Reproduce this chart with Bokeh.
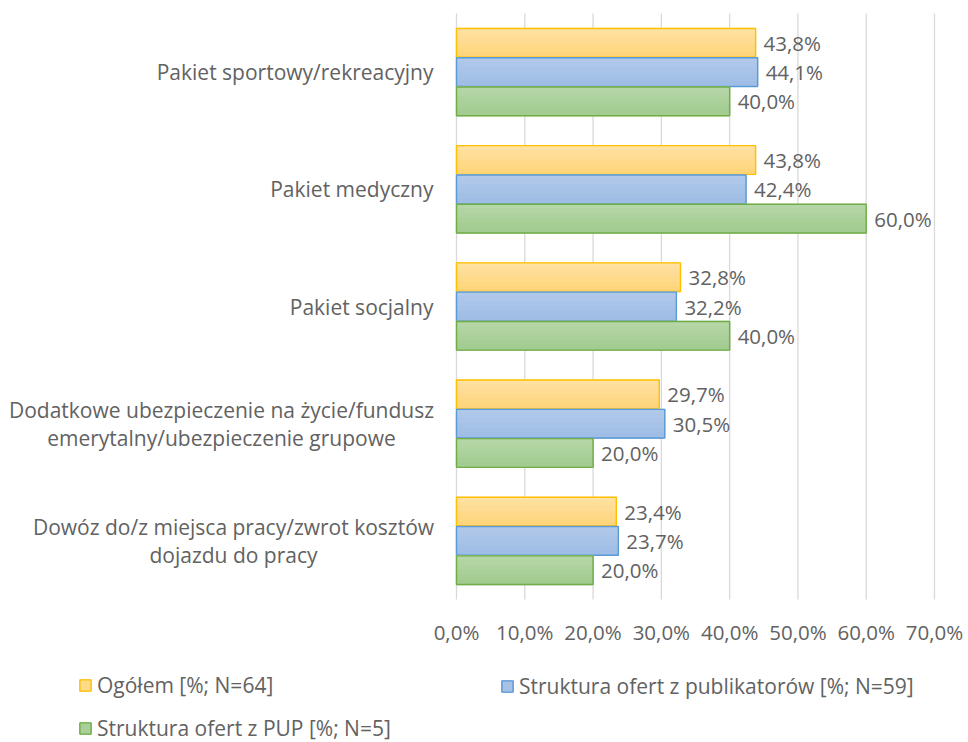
from bokeh.plotting import figure
from bokeh.models import (ColumnDataSource, LabelSet, Legend, LegendItem, Range1d)
from bokeh.core.properties import value
from bokeh.embed import file_html
from bokeh.resources import INLINE

# ---- data ----
categories = [
    "Pakiet sportowy/rekreacyjny",
    "Pakiet medyczny",
    "Pakiet socjalny",
    "Dodatkowe ubezpieczenie na życie/fundusz\nemerytalny/ubezpieczenie grupowe",
    "Dowóz do/z miejsca pracy/zwrot kosztów\ndojazdu do pracy",
]
ogolem = [43.8, 43.8, 32.8, 29.7, 23.4]
publikatory = [44.1, 42.4, 32.2, 30.5, 23.7]
pup = [40.0, 60.0, 40.0, 20.0, 20.0]
series_names = [
    "Ogółem [%; N=64]",
    "Struktura ofert z publikatorów [%; N=59]",
    "Struktura ofert z PUP [%; N=5]",
]
tick_values = [0, 10, 20, 30, 40, 50, 60, 70]
tick_labels = ["0,0%", "10,0%", "20,0%", "30,0%", "40,0%", "50,0%", "60,0%", "70,0%"]

# ---- style / layout ----
FONT = "Open Sans"
FS_NUM = "20.5px"
FS_CAT = "21px"
TXT = "#626262"
grad_top = [(255, 226, 166), (178, 202, 234), (183, 215, 168)]
grad_bot = [(255, 212, 120), (157, 188, 229), (161, 203, 142)]
lines = ["#FFC000", "#5B9BD5", "#70AD47"]
offsets = [0.25, 0.0, -0.25]
bar_h = 0.245
SLICES = 6

W, H = 968, 742
ZERO_PX, MAX_PX = 456, 934      # pixels of 0% and 70%
TOP_PX, BOT_PX = 13, 599        # pixels of the category band
CAT_RIGHT = 433                 # right edge of category labels
LINE_H = 28                     # line pitch of two-line labels

n = len(categories)
pos = [n - 0.5 - i for i in range(n)]
ux = tick_values[-1] / (MAX_PX - ZERO_PX)
uy = n / (BOT_PX - TOP_PX)
x_range = Range1d(-ZERO_PX * ux, (W - ZERO_PX) * ux)
y_range = Range1d(-(H - BOT_PX) * uy, n + TOP_PX * uy)

p = figure(width=W, height=H, x_range=x_range, y_range=y_range,
           output_backend="svg", toolbar_location=None,
           x_axis_location=None, y_axis_location=None, min_border=0)
p.outline_line_color = None
p.grid.visible = False

# vertical gridlines at the tick positions
p.segment(x0=tick_values, x1=tick_values, y0=[0] * len(tick_values),
          y1=[n] * len(tick_values), line_color="#d9d9d9", line_width=1.3)

# tick labels
tsrc = ColumnDataSource(dict(x=tick_values, y=[0] * len(tick_values), t=tick_labels))
p.add_layout(LabelSet(x="x", y="y", text="t", source=tsrc, y_offset=-32,
                      text_align="center", text_baseline="middle",
                      text_font=value(FONT), text_font_size=value(FS_NUM),
                      text_color=TXT))


def hexc(c):
    return "#%02x%02x%02x" % tuple(int(round(v)) for v in c)


legend_parts = []
for vals, off, ct, cb, lc in zip([ogolem, publikatory, pup], offsets,
                                 grad_top, grad_bot, lines):
    ys = [q + off for q in pos]
    src = ColumnDataSource(dict(
        y=ys, v=vals,
        t=[f"{v:.1f}%".replace(".", ",") for v in vals],
    ))
    # subtle vertical gradient: thin slices of the same bars
    mid = None
    sh = bar_h / SLICES
    for k in range(SLICES):
        f = (k + 0.5) / SLICES
        col = hexc([a + (b - a) * f for a, b in zip(ct, cb)])
        dy = bar_h / 2 - (k + 0.5) * sh
        r = p.hbar(y=[y + dy for y in ys], left=0, right=vals, height=sh,
                   fill_color=col, line_color=col, line_width=1.2)
        if k == SLICES // 2:
            mid = r
    outline = p.hbar(y="y", left=0, right="v", height=bar_h, source=src,
                     fill_color=None, line_color=lc, line_width=1.4)
    legend_parts.append([mid, outline])
    p.add_layout(LabelSet(x="v", y="y", text="t", source=src, x_offset=8,
                          text_baseline="middle", text_align="left",
                          text_font=value(FONT), text_font_size=value(FS_NUM),
                          text_color=TXT))

# ---- category labels (left of the 0% line) ----
single = [i for i, c in enumerate(categories) if "\n" not in c]
src_single = ColumnDataSource(dict(y=[pos[i] for i in single],
                                   t=[categories[i] for i in single]))
p.add_layout(LabelSet(x=CAT_RIGHT, x_units="screen", y="y", text="t",
                      source=src_single, text_align="right", text_baseline="middle",
                      text_font=value(FONT), text_font_size=value(FS_CAT),
                      text_color=TXT))
# two-line labels: each line centred under the first (longest) one
multi_cx = {3: 221, 4: 233}
ml_y, ml_t, ml_x, ml_off = [], [], [], []
for i, cx in multi_cx.items():
    parts = categories[i].split("\n")
    k = len(parts)
    for j, s in enumerate(parts):
        ml_y.append(pos[i])
        ml_t.append(s)
        ml_x.append(cx)
        ml_off.append(((k - 1) / 2 - j) * LINE_H)
src_multi = ColumnDataSource(dict(y=ml_y, t=ml_t, cx=ml_x, oy=ml_off))
p.add_layout(LabelSet(x="cx", x_units="screen", y="y", y_offset="oy", text="t",
                      source=src_multi, text_align="center", text_baseline="middle",
                      text_font=value(FONT), text_font_size=value(FS_CAT),
                      text_color=TXT))


# ---- legends ----
def make_legend(items, loc):
    return Legend(items=items, location=loc, orientation="vertical",
                  label_text_font=FONT, label_text_font_size=FS_CAT,
                  label_text_color=TXT, glyph_width=14, glyph_height=14,
                  label_height=28, label_standoff=5, spacing=15, padding=0,
                  margin=0, border_line_color=None, background_fill_alpha=0)


leg1 = make_legend([LegendItem(label=series_names[0], renderers=legend_parts[0]),
                    LegendItem(label=series_names[2], renderers=legend_parts[2])],
                   (78, 0))
leg2 = make_legend([LegendItem(label=series_names[1], renderers=legend_parts[1])],
                   (500, 42))
p.add_layout(leg1)
p.add_layout(leg2)

open("out.html", "w").write(file_html(p, INLINE))
